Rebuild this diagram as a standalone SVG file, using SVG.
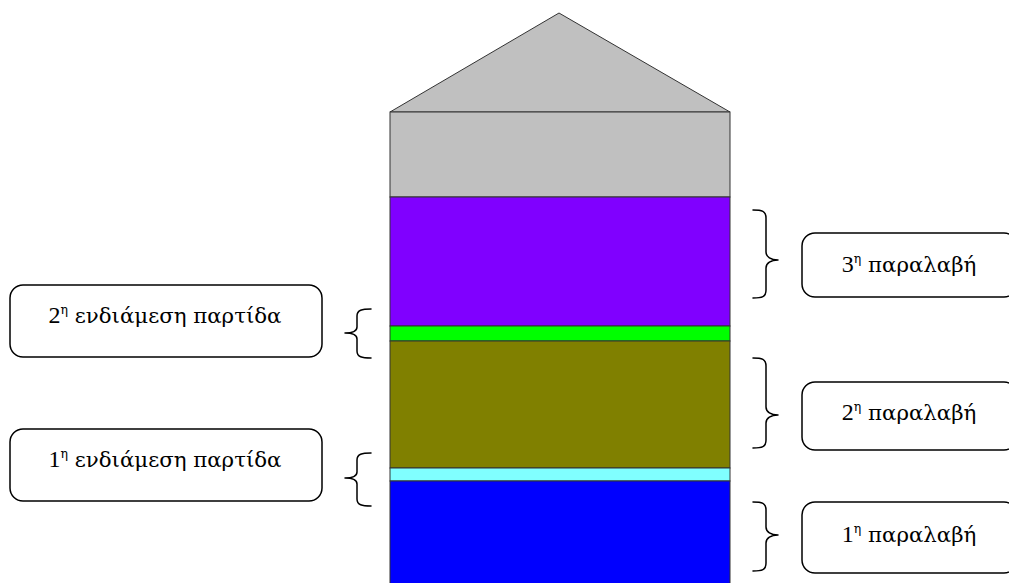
<svg xmlns="http://www.w3.org/2000/svg" width="1009" height="583" viewBox="0 0 1009 583">
  <style>
    .layer { stroke: #333; stroke-width: 1; }
    .box { fill: #fff; stroke: #000; stroke-width: 1.5; }
    .brace { fill: none; stroke: #000; stroke-width: 1.5; stroke-linejoin: round; stroke-linecap: round; }
    .label { font-family: "Liberation Serif", serif; font-size: 24px; fill: #000; }
    .gr { font-family: "DejaVu Serif", "Liberation Serif", serif; font-size: 21.3px; }
    .sup { font-family: "DejaVu Serif", "Liberation Serif", serif; font-size: 12.5px; }
  </style>
  <rect width="1009" height="583" fill="#fff"/>

  <!-- silo body -->
  <g id="silo">
    <polygon class="layer" points="390,112 559,13 730,112" fill="#c0c0c0"/>
    <rect class="layer" x="390" y="112" width="340" height="85" fill="#c0c0c0"/>
    <rect class="layer" x="390" y="197" width="340" height="129" fill="#8000ff"/>
    <rect class="layer" x="390" y="326" width="340" height="15" fill="#00ff00"/>
    <rect class="layer" x="390" y="341" width="340" height="127" fill="#808000"/>
    <rect class="layer" x="390" y="468" width="340" height="13" fill="#80ffff"/>
    <rect class="layer" x="390" y="481" width="340" height="110" fill="#0000ff"/>
  </g>

  <!-- braces -->
  <g id="connectors">
    <path class="brace" d="M371,309 C362,309 357,310 357,316 L357,327 C357,331 352,333 345,333 C352,333 357,335 357,339 L357,351 C357,357 362,358 371,358"/>
    <path class="brace" d="M371,453 C362,453 357,454 357,460 L357,472 C357,476 352,478 345,478 C352,478 357,480 357,484 L357,499 C357,505 362,506 371,506"/>
    <path class="brace" d="M753,210 C762,210 766,211 766,218 L766,252 C766,257 771,260 778,260 C771,260 766,263 766,268 L766,290 C766,297 762,298 753,298"/>
    <path class="brace" d="M753,358 C762,358 766,359 766,366 L766,407 C766,412 771,415 778,415 C771,415 766,418 766,423 L766,440 C766,447 762,448 753,448"/>
    <path class="brace" d="M753,502 C762,502 766,503 766,510 L766,527 C766,532 771,535 778,535 C771,535 766,538 766,543 L766,563 C766,570 762,571 753,571"/>
  </g>

  <g id="batch2">
    <rect class="box" x="10" y="285" width="312" height="72" rx="13"/>
    <text class="label" x="165" y="323" text-anchor="middle">2<tspan class="sup" dy="-9">η</tspan><tspan class="gr" dy="9"> ενδιάμεση παρτίδα</tspan></text>
  </g>

  <g id="batch1">
    <rect class="box" x="10" y="429" width="312" height="72" rx="13"/>
    <text class="label" x="165" y="467" text-anchor="middle">1<tspan class="sup" dy="-9">η</tspan><tspan class="gr" dy="9"> ενδιάμεση παρτίδα</tspan></text>
  </g>

  <g id="receipt3">
    <rect class="box" x="802" y="233" width="215" height="64" rx="13"/>
    <text class="label" x="909" y="272" text-anchor="middle">3<tspan class="sup" dy="-9">η</tspan><tspan class="gr" dy="9"> παραλαβή</tspan></text>
  </g>

  <g id="receipt2">
    <rect class="box" x="802" y="382" width="215" height="68" rx="13"/>
    <text class="label" x="909" y="420" text-anchor="middle">2<tspan class="sup" dy="-9">η</tspan><tspan class="gr" dy="9"> παραλαβή</tspan></text>
  </g>

  <g id="receipt1">
    <rect class="box" x="802" y="502" width="215" height="71" rx="13"/>
    <text class="label" x="909" y="542" text-anchor="middle">1<tspan class="sup" dy="-9">η</tspan><tspan class="gr" dy="9"> παραλαβή</tspan></text>
  </g>
</svg>
